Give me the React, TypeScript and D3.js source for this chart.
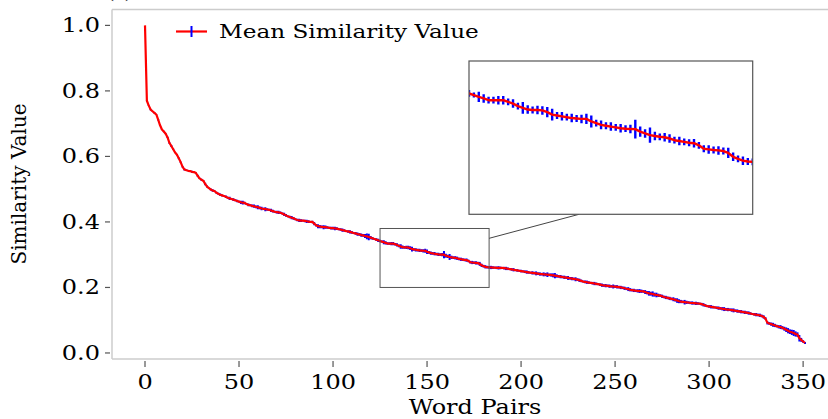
import React from "react";
import * as d3 from "d3";

const meanValues: number[] = [
  1.000, 0.770, 0.755, 0.743, 0.738, 0.733, 0.728, 0.712, 0.695, 0.682,
  0.676, 0.669, 0.658, 0.641, 0.632, 0.622, 0.612, 0.605, 0.594, 0.582,
  0.568, 0.560, 0.558, 0.556, 0.555, 0.553, 0.552, 0.550, 0.541, 0.533,
  0.529, 0.526, 0.516, 0.508, 0.503, 0.499, 0.496, 0.494, 0.489, 0.486,
  0.483, 0.481, 0.479, 0.477, 0.474, 0.472, 0.470, 0.468, 0.466, 0.464,
  0.462, 0.460, 0.459, 0.458, 0.455, 0.452, 0.451, 0.449, 0.448, 0.446,
  0.445, 0.443, 0.441, 0.440, 0.439, 0.438, 0.437, 0.435, 0.433, 0.431,
  0.430, 0.429, 0.428, 0.426, 0.423, 0.420, 0.417, 0.415, 0.413, 0.411,
  0.408, 0.406, 0.405, 0.404, 0.404, 0.403, 0.402, 0.401, 0.400, 0.400,
  0.395, 0.390, 0.387, 0.386, 0.385, 0.384, 0.384, 0.383, 0.382, 0.381,
  0.381, 0.380, 0.3795, 0.378, 0.377, 0.375, 0.374, 0.372, 0.371, 0.3695,
  0.368, 0.366, 0.365, 0.363, 0.362, 0.360, 0.359, 0.357, 0.356, 0.354,
  0.352, 0.350, 0.348, 0.346, 0.344, 0.342, 0.340, 0.338, 0.336, 0.334,
  0.334, 0.334, 0.334, 0.332, 0.330, 0.327, 0.325, 0.323, 0.3225, 0.3225,
  0.322, 0.320, 0.317, 0.316, 0.315, 0.314, 0.313, 0.3125, 0.312, 0.312,
  0.309, 0.307, 0.305, 0.304, 0.303, 0.302, 0.301, 0.3005, 0.3002, 0.300,
  0.297, 0.295, 0.293, 0.292, 0.291, 0.2905, 0.289, 0.287, 0.286, 0.285,
  0.284, 0.2835, 0.281, 0.277, 0.2762, 0.2755, 0.275, 0.2743, 0.272, 0.2675,
  0.265, 0.263, 0.262, 0.2615, 0.261, 0.2607, 0.2605, 0.260, 0.2598, 0.2596,
  0.2595, 0.259, 0.258, 0.257, 0.256, 0.255, 0.254, 0.253, 0.252, 0.251,
  0.250, 0.249, 0.248, 0.247, 0.246, 0.245, 0.2445, 0.244, 0.243, 0.242,
  0.241, 0.2405, 0.240, 0.2395, 0.239, 0.2385, 0.238, 0.237, 0.236, 0.235,
  0.234, 0.233, 0.232, 0.231, 0.230, 0.229, 0.228, 0.227, 0.226, 0.225,
  0.224, 0.222, 0.220, 0.218, 0.217, 0.216, 0.215, 0.214, 0.213, 0.212,
  0.211, 0.210, 0.2085, 0.207, 0.206, 0.2055, 0.205, 0.204, 0.2035, 0.203,
  0.2025, 0.202, 0.201, 0.200, 0.199, 0.1975, 0.196, 0.195, 0.193, 0.192,
  0.191, 0.190, 0.1895, 0.189, 0.1885, 0.188, 0.186, 0.184, 0.182, 0.181,
  0.180, 0.178, 0.177, 0.176, 0.175, 0.173, 0.171, 0.1695, 0.168, 0.1665,
  0.165, 0.164, 0.162, 0.160, 0.158, 0.157, 0.156, 0.155, 0.1545, 0.154,
  0.153, 0.1525, 0.152, 0.1515, 0.151, 0.1505, 0.149, 0.147, 0.145, 0.143,
  0.142, 0.141, 0.140, 0.139, 0.138, 0.137, 0.136, 0.135, 0.134, 0.133,
  0.1325, 0.132, 0.131, 0.130, 0.129, 0.128, 0.127, 0.126, 0.125, 0.124,
  0.123, 0.122, 0.1205, 0.119, 0.118, 0.117, 0.116, 0.115, 0.113, 0.110,
  0.105, 0.092, 0.090, 0.088, 0.086, 0.084, 0.082, 0.080, 0.079, 0.077,
  0.074, 0.071, 0.068, 0.065, 0.063, 0.061, 0.058, 0.056, 0.045, 0.040,
  0.035, 0.0305,
];

const errValues: number[] = [
  0, 0.001, 0.001, 0.002, 0.001, 0.002, 0.001, 0.002, 0.002, 0.001,
  0.002, 0.001, 0.002, 0.002, 0.003, 0.002, 0.001, 0.002, 0.003, 0.002,
  0.002, 0.003, 0.002, 0.001, 0.002, 0.003, 0.002, 0.002, 0.003, 0.002,
  0.003, 0.002, 0.004, 0.003, 0.002, 0.003, 0.004, 0.002, 0.003, 0.003,
  0.004, 0.003, 0.002, 0.004, 0.003, 0.005, 0.003, 0.004, 0.003, 0.004,
  0.003, 0.005, 0.006, 0.004, 0.003, 0.004, 0.003, 0.004, 0.005, 0.004,
  0.006, 0.004, 0.005, 0.003, 0.006, 0.004, 0.003, 0.005, 0.004, 0.003,
  0.004, 0.005, 0.004, 0.003, 0.005, 0.004, 0.003, 0.004, 0.005, 0.004,
  0.003, 0.004, 0.005, 0.004, 0.003, 0.004, 0.005, 0.004, 0.003, 0.004,
  0.005, 0.004, 0.006, 0.005, 0.004, 0.006, 0.005, 0.004, 0.003, 0.004,
  0.004, 0.005, 0.004, 0.003, 0.004, 0.005, 0.004, 0.003, 0.004, 0.005,
  0.004, 0.003, 0.004, 0.005, 0.004, 0.005, 0.004, 0.006, 0.009, 0.010,
  0.005, 0.004, 0.003, 0.004, 0.005, 0.004, 0.003, 0.006, 0.005, 0.004,
  0.004, 0.005, 0.005, 0.004, 0.005, 0.004, 0.007, 0.005, 0.004, 0.005,
  0.005, 0.006, 0.007, 0.004, 0.005, 0.004, 0.005, 0.004, 0.005, 0.006,
  0.007, 0.004, 0.005, 0.004, 0.005, 0.004, 0.005, 0.004, 0.005, 0.011,
  0.006, 0.005, 0.009, 0.005, 0.004, 0.005, 0.005, 0.004, 0.005, 0.004,
  0.004, 0.005, 0.004, 0.004, 0.005, 0.004, 0.005, 0.004, 0.006, 0.005,
  0.004, 0.005, 0.004, 0.004, 0.005, 0.004, 0.003, 0.004, 0.005, 0.004,
  0.003, 0.004, 0.005, 0.004, 0.003, 0.004, 0.005, 0.003, 0.004, 0.003,
  0.004, 0.003, 0.004, 0.005, 0.004, 0.003, 0.005, 0.004, 0.006, 0.004,
  0.005, 0.004, 0.006, 0.005, 0.007, 0.004, 0.005, 0.006, 0.008, 0.005,
  0.004, 0.005, 0.004, 0.005, 0.004, 0.006, 0.004, 0.005, 0.004, 0.006,
  0.004, 0.005, 0.004, 0.003, 0.004, 0.005, 0.004, 0.003, 0.004, 0.005,
  0.004, 0.003, 0.004, 0.005, 0.004, 0.005, 0.004, 0.005, 0.004, 0.006,
  0.004, 0.005, 0.004, 0.005, 0.004, 0.005, 0.004, 0.006, 0.005, 0.004,
  0.005, 0.004, 0.005, 0.006, 0.005, 0.004, 0.006, 0.005, 0.007, 0.006,
  0.008, 0.006, 0.007, 0.005, 0.004, 0.005, 0.004, 0.005, 0.004, 0.005,
  0.004, 0.006, 0.005, 0.007, 0.006, 0.005, 0.004, 0.007, 0.005, 0.004,
  0.004, 0.005, 0.004, 0.005, 0.004, 0.003, 0.004, 0.005, 0.004, 0.003,
  0.004, 0.005, 0.004, 0.003, 0.004, 0.005, 0.004, 0.005, 0.006, 0.004,
  0.005, 0.004, 0.005, 0.006, 0.004, 0.005, 0.004, 0.005, 0.004, 0.005,
  0.004, 0.005, 0.004, 0.003, 0.004, 0.005, 0.004, 0.005, 0.004, 0.005,
  0.004, 0.005, 0.004, 0.005, 0.006, 0.005, 0.004, 0.005, 0.006, 0.005,
  0.006, 0.007, 0.008, 0.007, 0.008, 0.009, 0.008, 0.007, 0.010, 0.006,
  0.004, 0.003,
];

const xTicks: number[] = [0, 50, 100, 150, 200, 250, 300, 350];
const yTicks: number[] = [0.0, 0.2, 0.4, 0.6, 0.8, 1.0];
const insetXRange: number[] = [125, 183];
const insetYRange: number[] = [0.2, 0.38];
const legendLabel = "Mean Similarity Value";
const xLabel = "Word Pairs";
const yLabel = "Similarity Value";
const titleText = "(a)";

const W = 828;
const H = 419;
const FONT = "'DejaVu Serif', serif";
const SX = 1.2; // horizontal stretch of the original image text
const SPINE = "#cccccc";
const TICK = "#555555";
const RED = "#ff0000";
const BLUE = "#0000ff";

type Pt = { x: number; y: number; e: number };
const data: Pt[] = meanValues.map((v, i) => ({ x: i, y: v, e: errValues[i] }));

export default function App() {
  const x = d3.scaleLinear().domain([-17.55, 368.55]).range([112, 838]);
  const y = d3.scaleLinear().domain([-0.0184, 1.0485]).range([359, 9.5]);

  const xi = d3.scaleLinear().domain(insetXRange).range([469, 752.7]);
  const yi = d3.scaleLinear().domain(insetYRange).range([214.3, 61]);

  const line = d3.line<Pt>().x((d) => x(d.x)).y((d) => y(d.y));
  const lineI = d3.line<Pt>().x((d) => xi(d.x)).y((d) => yi(d.y));

  const insetData = data.filter((d) => d.x >= insetXRange[0] - 1 && d.x <= insetXRange[1] + 1);

  const stretched = (tx: number, ty: number, extra = "") =>
    `translate(${tx},${ty}) scale(${SX},1)${extra}`;

  return (
    <svg
      width={W}
      height={H}
      style={{ position: "absolute", left: 0, top: 0, background: "#fff" }}
      fontFamily={FONT}
    >
      <defs>
        <clipPath id="mainClip">
          <rect x={112} y={9.5} width={W - 112} height={359 - 9.5} />
        </clipPath>
        <clipPath id="insetClip">
          <rect x={469} y={61} width={752.7 - 469} height={214.3 - 61} />
        </clipPath>
      </defs>
      <rect x={0} y={0} width={W} height={H} fill="#fff" />

      {/* title (cut off at top, as in the reference) */}
      <text transform={stretched(108, -1)} fontSize={14} fill="#000">
        {titleText}
      </text>

      {/* spines */}
      <line x1={112} x2={W} y1={9.5} y2={9.5} stroke={SPINE} strokeWidth={1.3} />
      <line x1={112} x2={112} y1={9.5} y2={359} stroke={SPINE} strokeWidth={1.5} />
      <line x1={112} x2={W} y1={359} y2={359} stroke={SPINE} strokeWidth={1.5} />

      {/* x ticks */}
      {xTicks.map((t) => (
        <g key={"xt" + t}>
          <line x1={x(t)} x2={x(t)} y1={361} y2={367} stroke={TICK} strokeWidth={1.2} />
          <text
            transform={stretched(x(t), 389)}
            textAnchor="middle"
            fontSize={20}
            fill="#000"
          >
            {String(t)}
          </text>
        </g>
      ))}

      {/* y ticks */}
      {yTicks.map((t) => (
        <g key={"yt" + t}>
          <line x1={105} x2={110} y1={y(t)} y2={y(t)} stroke={TICK} strokeWidth={1.2} />
          <text
            transform={stretched(100, y(t) + 7)}
            textAnchor="end"
            fontSize={20}
            fill="#000"
          >
            {t.toFixed(1)}
          </text>
        </g>
      ))}

      {/* axis labels */}
      <text transform={stretched(475, 414)} textAnchor="middle" fontSize={20} fill="#000">
        {xLabel}
      </text>
      <text
        transform={`translate(26,184) rotate(-90)`}
        textAnchor="middle"
        fontSize={20}
        fill="#000"
      >
        {yLabel}
      </text>

      {/* main series */}
      <g clipPath="url(#mainClip)">
        {data.map((d) => (
          <line
            key={"eb" + d.x}
            x1={x(d.x)}
            x2={x(d.x)}
            y1={y(d.y - d.e)}
            y2={y(d.y + d.e)}
            stroke={BLUE}
            strokeWidth={2}
          />
        ))}
        <path d={line(data) || ""} fill="none" stroke={RED} strokeWidth={2.2} strokeLinejoin="round" />
      </g>

      {/* zoom indicator rectangle */}
      <rect
        x={x(insetXRange[0])}
        y={y(insetYRange[1])}
        width={x(insetXRange[1]) - x(insetXRange[0])}
        height={y(insetYRange[0]) - y(insetYRange[1])}
        fill="none"
        stroke="#555"
        strokeWidth={1}
      />
      <line
        x1={x(insetXRange[1])}
        y1={y(0.35)}
        x2={xi(147.5)}
        y2={yi(insetYRange[0])}
        stroke="#444"
        strokeWidth={1}
      />

      {/* inset */}
      <rect x={469} y={61} width={752.7 - 469} height={214.3 - 61} fill="#fff" />
      <g clipPath="url(#insetClip)">
        {insetData.map((d) => (
          <line
            key={"ebi" + d.x}
            x1={xi(d.x)}
            x2={xi(d.x)}
            y1={yi(d.y - d.e)}
            y2={yi(d.y + d.e)}
            stroke={BLUE}
            strokeWidth={2.4}
          />
        ))}
        <path d={lineI(insetData) || ""} fill="none" stroke={RED} strokeWidth={2.4} strokeLinejoin="round" />
      </g>
      <rect x={469} y={61} width={752.7 - 469} height={214.3 - 61} fill="none" stroke="#555" strokeWidth={1.2} />

      {/* legend */}
      <line x1={176} x2={207} y1={31.5} y2={31.5} stroke={RED} strokeWidth={2.2} />
      <line x1={191.5} x2={191.5} y1={26} y2={37} stroke={BLUE} strokeWidth={2} />
      <text transform={stretched(219, 37.5)} fontSize={19.3} fill="#000">
        {legendLabel}
      </text>
    </svg>
  );
}
